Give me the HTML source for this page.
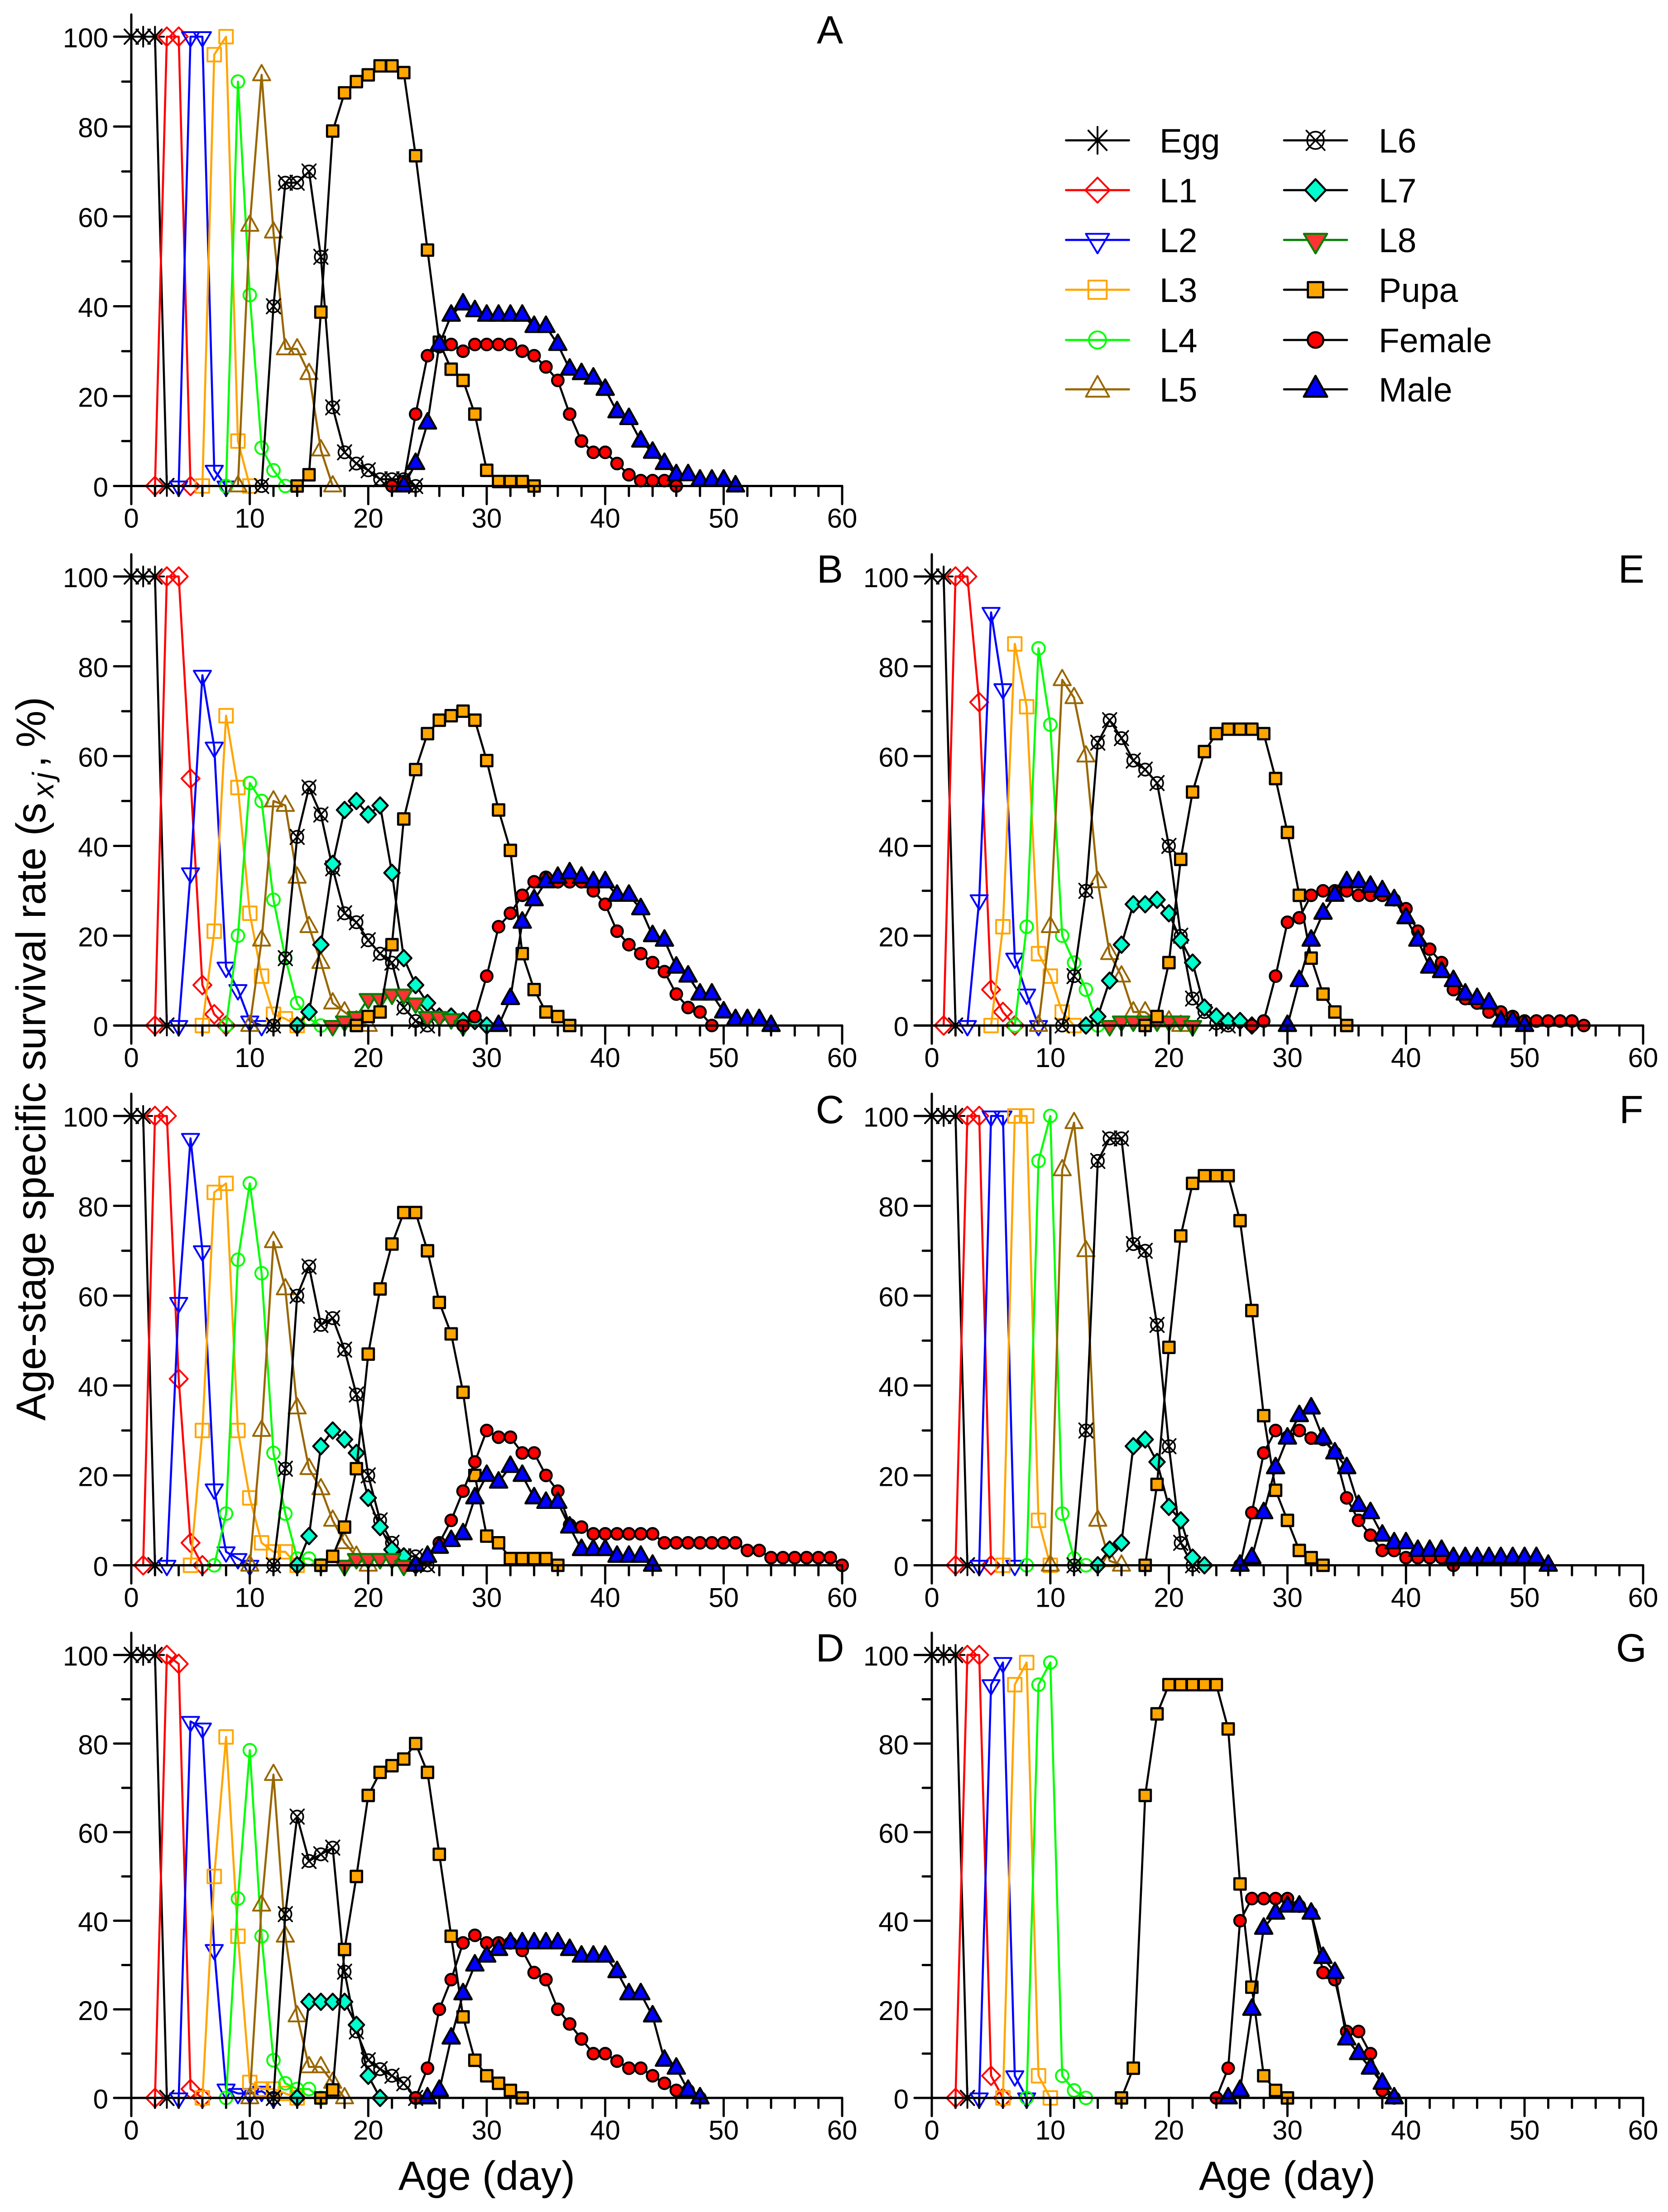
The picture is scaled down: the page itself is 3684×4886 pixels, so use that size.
<!DOCTYPE html>
<html lang="en">
<head>
<meta charset="utf-8">
<title>Age-stage specific survival rate</title>
<style>
html,body{margin:0;padding:0;background:#fff}
svg{display:block}
text{font-family:"Liberation Sans",Arial,sans-serif;fill:#000}
</style>
</head>
<body>
<svg id="chart" xmlns="http://www.w3.org/2000/svg" width="3684" height="4886" viewBox="0 0 3684 4886">
  <rect x="0" y="0" width="3684" height="4886" fill="#fff"/>
  <g id="panels"></g>
  <g id="legend-marks"></g>
  <g font-size="75">
    <text x="2561" y="337">Egg</text>
    <text x="2561" y="447">L1</text>
    <text x="2561" y="557">L2</text>
    <text x="2561" y="667">L3</text>
    <text x="2561" y="778">L4</text>
    <text x="2561" y="887">L5</text>
    <text x="3045" y="337">L6</text>
    <text x="3045" y="447">L7</text>
    <text x="3045" y="557">L8</text>
    <text x="3045" y="667">Pupa</text>
    <text x="3045" y="778">Female</text>
    <text x="3045" y="887">Male</text>
  </g>
  <g font-size="87" text-anchor="middle">
    <text x="1833" y="96">A</text>
    <text x="1833" y="1287">B</text>
    <text x="1833" y="2481">C</text>
    <text x="1833" y="3670">D</text>
    <text x="3603" y="1287">E</text>
    <text x="3603" y="2481">F</text>
    <text x="3603" y="3670">G</text>
  </g>
  <text x="1075" y="4837" font-size="90" text-anchor="middle">Age (day)</text>
  <text x="2843" y="4837" font-size="90" text-anchor="middle">Age (day)</text>
  <text transform="translate(100,3138) rotate(-90)" font-size="91.5">Age-stage specific survival rate (<tspan x="1319">s</tspan><tspan x="1376" dy="18" font-size="66" font-style="italic" letter-spacing="8">xj</tspan><tspan x="1443" dy="-18">,</tspan><tspan x="1487">%)</tspan></text>
</svg>
<script>
// Tick values and labels
const xMajorTicks = [0, 10, 20, 30, 40, 50, 60];
const xMinorTicks = [2, 4, 6, 8, 12, 14, 16, 18, 22, 24, 26, 28, 32, 34, 36, 38, 42, 44, 46, 48, 52, 54, 56, 58];
const yMajorTicks = [0, 20, 40, 60, 80, 100];
const yMinorTicks = [10, 30, 50, 70, 90];
const stages = ['Egg', 'L1', 'L2', 'L3', 'L4', 'L5', 'L6', 'L7', 'L8', 'Pupa', 'Female', 'Male'];

// Panel A: first age (day) of each stage, then survival rate (%) per day
const A_firstDay = [0, 2, 4, 6, 8, 9, 11, null, null, 14, 22, 23];
const A_Egg = [100, 100, 100, 0];
const A_L1 = [0, 100, 100, 0];
const A_L2 = [0, 100, 100, 3.5, 0];
const A_L3 = [0, 96, 100, 10, 0];
const A_L4 = [0, 90, 42.5, 8.5, 3.5, 0];
const A_L5 = [0, 58, 91.5, 56.5, 30.5, 30.5, 25, 8, 0];
const A_L6 = [0, 40, 67.5, 67.5, 70, 51, 17.5, 7.5, 5, 3.5, 1.5, 1.5, 1.5, 0];
const A_L7 = [];
const A_L8 = [];
const A_Pupa = [0, 2.5, 38.7, 79, 87.5, 90, 91.5, 93.5, 93.5, 92, 73.5, 52.5, 32, 26, 23.5, 16, 3.5, 1, 1, 1, 0];
const A_Female = [0, 1, 16, 29, 31, 31.5, 30, 31.5, 31.5, 31.5, 31.5, 30, 29, 26.5, 23.5, 16, 10, 7.5, 7.5, 5, 2.5, 1.2, 1.2, 1.2, 0];
const A_Male = [0, 5, 14, 31.5, 38, 40.5, 39, 38, 38, 38, 38, 35.5, 35.5, 31.5, 26, 25, 24, 21.5, 16.5, 15, 10, 7.5, 5, 2.5, 2.5, 1.3, 1.3, 1.3, 0];

// Panel B
const B_firstDay = [0, 2, 4, 6, 8, 10, 12, 14, 17, 19, 28, 31];
const B_Egg = [100, 100, 100, 0];
const B_L1 = [0, 100, 100, 55, 9, 2.5, 0];
const B_L2 = [0, 34, 78, 62, 13, 8, 1, 0];
const B_L3 = [0, 21, 69, 53, 25, 11, 2.5, 1.5, 0];
const B_L4 = [0, 20, 54, 50, 28, 15, 5, 1.5, 0];
const B_L5 = [0, 19, 50, 49, 33, 22, 14, 5, 3, 1, 0];
const B_L6 = [0, 15, 42, 53, 47, 35, 25, 23, 19, 16, 14, 4, 1, 0];
const B_L7 = [0, 3, 18, 36, 48, 50, 47, 49, 34, 15, 9, 5, 2, 2, 1, 1, 0];
const B_L8 = [0, 1, 2, 6, 6, 7, 7, 5, 2, 2, 1.5, 0];
const B_Pupa = [0, 2, 3, 18, 46, 57, 65, 68, 69, 70, 68, 59, 48, 39, 16, 8, 3, 2, 0];
const B_Female = [0, 2, 11, 22, 25, 29, 32, 33, 32, 32, 32, 30, 27, 21, 18, 16, 14, 12, 7, 4, 3, 0];
const B_Male = [0, 6, 23, 28, 32, 33, 34, 33, 32, 32, 29, 29, 26, 20, 19, 13, 11, 7, 7, 3, 1.3, 1.3, 1.3, 0];

// Panel C
const C_firstDay = [0, 1, 3, 5, 7, 10, 12, 14, 18, 16, 24, 24];
const C_Egg = [100, 100, 0];
const C_L1 = [0, 100, 100, 41.5, 5, 0];
const C_L2 = [0, 58.5, 95, 70, 17, 3, 1.5, 0];
const C_L3 = [0, 30, 83, 85, 30, 15, 5, 3, 3, 0];
const C_L4 = [0, 11.5, 68, 85, 65, 25, 11.5, 1.5, 1.5, 0];
const C_L5 = [0, 30, 72, 61.5, 35, 21.5, 17, 10, 5, 2, 0];
const C_L6 = [0, 21.5, 60, 66.5, 53.5, 55, 48, 38, 20, 10, 5, 2, 2, 0];
const C_L7 = [0, 6.5, 26.5, 30, 28, 25, 15, 8.5, 3.5, 2, 0];
const C_L8 = [0, 1.5, 1.5, 1.5, 1.5, 0];
const C_Pupa = [0, 2, 8.5, 21.5, 47, 61.5, 71.5, 78.5, 78.5, 70, 58.5, 51.5, 38.5, 20, 6.5, 5, 1.5, 1.5, 1.5, 1.5, 0];
const C_Female = [0, 1.5, 5, 10, 16.5, 23, 30, 28.5, 28.5, 25, 25, 20, 16.5, 9, 8.5, 7, 7, 7, 7, 7, 7, 5, 5, 5, 5, 5, 5, 5, 3.3, 3.3, 1.7, 1.7, 1.7, 1.7, 1.7, 1.7, 0];
const C_Male = [0, 2, 4, 5.5, 7, 15, 20, 18.5, 22, 20, 15, 14, 14, 8.5, 3.5, 3.5, 3.5, 2, 2, 2, 0];

// Panel D
const D_firstDay = [0, 2, 4, 6, 8, 10, 12, 14, null, 16, 24, 25];
const D_Egg = [100, 100, 100, 0];
const D_L1 = [0, 100, 98, 2, 0];
const D_L2 = [0, 85, 83.5, 33.5, 2, 1, 1, 1.5, 0];
const D_L3 = [0, 50, 81.5, 36.5, 3.5, 2, 2, 1, 0];
const D_L4 = [0, 45, 78.5, 36.5, 8.5, 3.3, 2, 2, 0];
const D_L5 = [0, 43.5, 73, 36.5, 18.5, 7, 7, 3.5, 0];
const D_L6 = [0, 41.5, 63.5, 53.5, 55, 56.5, 28.5, 15, 8.5, 6.5, 5, 3.3, 0];
const D_L7 = [0, 21.7, 21.7, 21.7, 21.7, 16.5, 5, 0];
const D_L8 = [];
const D_Pupa = [0, 1.8, 33.5, 50, 68.3, 73.5, 75, 76.5, 80, 73.5, 55, 36.5, 18.3, 8.5, 5, 3.3, 1.7, 0];
const D_Female = [0, 6.7, 20, 26.7, 35, 36.7, 35, 35, 35, 33.3, 28.3, 26.7, 20, 16.7, 13.3, 10, 10, 8.3, 6.7, 6.7, 5, 3.3, 1.7, 1.7, 0];
const D_Male = [0, 1.7, 13.5, 23.5, 30, 32, 33.5, 35, 35, 35, 35, 35, 33.5, 32, 32, 32, 28.5, 23.5, 23.5, 18.5, 8.5, 6.7, 1.7, 0];

// Panel E
const E_firstDay = [0, 1, 3, 5, 7, 9, 11, 13, 15, 18, 27, 30];
const E_Egg = [100, 100, 0];
const E_L1 = [0, 100, 100, 72, 8, 3, 0];
const E_L2 = [0, 28, 92, 75, 15, 7, 0];
const E_L3 = [0, 22, 85, 71, 16, 11, 3, 0];
const E_L4 = [0, 22, 84, 67, 20, 14, 8, 0];
const E_L5 = [0, 22, 77, 73, 60, 32, 16, 11, 3, 3, 1, 1, 0];
const E_L6 = [0, 11, 30, 63, 68, 64, 59, 57, 54, 40, 20, 6, 3, 0.5, 0];
const E_L7 = [0, 2, 10, 18, 27, 27, 28, 25, 19, 14, 4, 2, 1, 1, 0];
const E_L8 = [0, 1, 1, 1, 1, 1, 1, 0];
const E_Pupa = [0, 2, 14, 37, 52, 61, 65, 66, 66, 66, 65, 55, 43, 29, 15, 7, 3, 0];
const E_Female = [0, 1, 11, 23, 24, 29, 30, 30, 30, 29, 29, 29, 28, 26, 21, 17, 14, 8, 6, 5, 3, 3, 2, 1, 1, 1, 1, 1, 0];
const E_Male = [0, 10, 19, 25, 29, 32, 32, 31, 30, 28, 24, 19, 13, 12, 10, 7, 6, 5, 1, 1, 0];

// Panel F
const F_firstDay = [0, 2, 4, 6, 8, 10, 12, 14, null, 18, 26, 26];
const F_Egg = [100, 100, 100, 0];
const F_L1 = [0, 100, 100, 0];
const F_L2 = [0, 100, 100, 0];
const F_L3 = [0, 100, 100, 10, 0];
const F_L4 = [0, 90, 100, 11.5, 1.5, 0];
const F_L5 = [0, 88, 98.5, 70, 10, 1, 0];
const F_L6 = [0, 30, 90, 95, 95, 71.5, 70, 53.5, 26.5, 5, 0];
const F_L7 = [0, 3.5, 5, 26.5, 28, 23, 13, 10, 1.7, 0];
const F_L8 = [];
const F_Pupa = [0, 18, 48.5, 73.3, 85, 86.7, 86.7, 86.7, 76.7, 56.7, 33.3, 16.7, 10, 3.3, 1.7, 0];
const F_Female = [0, 11.7, 25, 30, 28.5, 30, 28.3, 28, 25, 15, 10, 6.7, 3.3, 3.3, 1.7, 1.7, 1.7, 1.7, 0];
const F_Male = [0, 1.7, 11.7, 21.7, 28.3, 33.3, 35, 28.3, 25, 21.7, 13.3, 11.7, 6.7, 5, 5, 3.3, 3.3, 3.3, 1.7, 1.7, 1.7, 1.7, 1.7, 1.7, 1.7, 1.7, 0];

// Panel G
const G_firstDay = [0, 2, 4, 6, 8, null, null, null, null, 16, 24, 25];
const G_Egg = [100, 100, 100, 0];
const G_L1 = [0, 100, 100, 5, 0];
const G_L2 = [0, 93.3, 98.3, 5, 0];
const G_L3 = [0, 93.3, 98.3, 5, 0];
const G_L4 = [0, 93.3, 98.3, 5, 1.7, 0];
const G_L5 = [];
const G_L6 = [];
const G_L7 = [];
const G_L8 = [];
const G_Pupa = [0, 6.7, 68.3, 86.7, 93.3, 93.3, 93.3, 93.3, 93.3, 83.3, 48.3, 25, 5, 1.7, 0];
const G_Female = [0, 6.7, 40, 45, 45, 45, 45, 43.3, 41.7, 28.3, 26.7, 15, 15, 10, 1.7, 0];
const G_Male = [0, 1.7, 20, 38.3, 41.7, 43.3, 43.3, 41.7, 31.7, 28.3, 13.3, 10, 6.7, 3.3, 0];

const panelData = {
  A: {firstDay: A_firstDay, series: [A_Egg, A_L1, A_L2, A_L3, A_L4, A_L5, A_L6, A_L7, A_L8, A_Pupa, A_Female, A_Male]},
  B: {firstDay: B_firstDay, series: [B_Egg, B_L1, B_L2, B_L3, B_L4, B_L5, B_L6, B_L7, B_L8, B_Pupa, B_Female, B_Male]},
  C: {firstDay: C_firstDay, series: [C_Egg, C_L1, C_L2, C_L3, C_L4, C_L5, C_L6, C_L7, C_L8, C_Pupa, C_Female, C_Male]},
  D: {firstDay: D_firstDay, series: [D_Egg, D_L1, D_L2, D_L3, D_L4, D_L5, D_L6, D_L7, D_L8, D_Pupa, D_Female, D_Male]},
  E: {firstDay: E_firstDay, series: [E_Egg, E_L1, E_L2, E_L3, E_L4, E_L5, E_L6, E_L7, E_L8, E_Pupa, E_Female, E_Male]},
  F: {firstDay: F_firstDay, series: [F_Egg, F_L1, F_L2, F_L3, F_L4, F_L5, F_L6, F_L7, F_L8, F_Pupa, F_Female, F_Male]},
  G: {firstDay: G_firstDay, series: [G_Egg, G_L1, G_L2, G_L3, G_L4, G_L5, G_L6, G_L7, G_L8, G_Pupa, G_Female, G_Male]}
};

// Layout (pixels)
const panelFrames = {
  A: {l: 290, r: 1860, t: 81, b: 1073.5},
  B: {l: 290, r: 1860, t: 1273.4, b: 2265.2},
  C: {l: 290, r: 1860, t: 2465, b: 3457.5},
  D: {l: 290, r: 1860, t: 3655.6, b: 4634},
  E: {l: 2058, r: 3629, t: 1273.4, b: 2265.2},
  F: {l: 2058, r: 3629, t: 2465, b: 3457.5},
  G: {l: 2058, r: 3629, t: 3655.6, b: 4634}
};
const stageStyles = {
  Egg: {line: '#000', shape: 'star', stroke: '#000', fill: 'none', sw: 4},
  L1: {line: '#f00', shape: 'diamond', stroke: '#f00', fill: 'none', sw: 4},
  L2: {line: '#00f', shape: 'down', stroke: '#00f', fill: 'none', sw: 4},
  L3: {line: '#ffa500', shape: 'square', stroke: '#ffa500', fill: 'none', sw: 4},
  L4: {line: '#0f0', shape: 'circle', stroke: '#0f0', fill: 'none', sw: 4},
  L5: {line: '#996600', shape: 'up', stroke: '#996600', fill: 'none', sw: 4},
  L6: {line: '#000', shape: 'xcircle', stroke: '#000', fill: 'none', sw: 3.6},
  L7: {line: '#000', shape: 'diamond7', stroke: '#000', fill: '#00ffcc', sw: 4.4},
  L8: {line: '#008000', shape: 'down', stroke: '#008000', fill: '#ff3333', sw: 4.4},
  Pupa: {line: '#000', shape: 'pupa', stroke: '#000', fill: '#ffa500', sw: 4.8},
  Female: {line: '#000', shape: 'dot', stroke: '#000', fill: '#f00', sw: 4.4},
  Male: {line: '#000', shape: 'up', stroke: '#000', fill: '#00f', sw: 4.8}
};

const NS = 'http://www.w3.org/2000/svg';
function make(tag, parent, attrs) {
  const el = document.createElementNS(NS, tag);
  for (const k in attrs) el.setAttribute(k, attrs[k]);
  parent.appendChild(el);
  return el;
}
function markerPath(shape, x, y, s) {
  const p = (dx, dy) => (x + dx * s).toFixed(1) + ' ' + (y + dy * s).toFixed(1);
  const circle = r => 'M' + p(-r, 0) + 'A' + (r * s) + ' ' + (r * s) + ' 0 1 1 ' + p(r, 0) + 'A' + (r * s) + ' ' + (r * s) + ' 0 1 1 ' + p(-r, 0) + 'Z';
  switch (shape) {
    case 'star': return 'M' + p(-20, 0) + 'L' + p(20, 0) + 'M' + p(0, -22) + 'L' + p(0, 22) + 'M' + p(-15, -16) + 'L' + p(15, 16) + 'M' + p(-15, 16) + 'L' + p(15, -16);
    case 'diamond': return 'M' + p(0, -20.5) + 'L' + p(20, 0) + 'L' + p(0, 20.5) + 'L' + p(-20, 0) + 'Z';
    case 'diamond7': return 'M' + p(0, -18) + 'L' + p(17, 0) + 'L' + p(0, 18) + 'L' + p(-17, 0) + 'Z';
    case 'down': return 'M' + p(-19, -10) + 'L' + p(19, -10) + 'L' + p(0, 22) + 'Z';
    case 'up': return 'M' + p(-19, 12) + 'L' + p(19, 12) + 'L' + p(0, -22) + 'Z';
    case 'square': return 'M' + p(-15, -15) + 'L' + p(15, -15) + 'L' + p(15, 15) + 'L' + p(-15, 15) + 'Z';
    case 'pupa': return 'M' + p(-12.5, -12.5) + 'L' + p(12.5, -12.5) + 'L' + p(12.5, 12.5) + 'L' + p(-12.5, 12.5) + 'Z';
    case 'circle': return circle(14);
    case 'dot': return circle(12.8);
    case 'xcircle': return circle(13.5) + 'M' + p(-15, -16) + 'L' + p(15, 16) + 'M' + p(-15, 16) + 'L' + p(15, -16);
  }
  return '';
}
function xAxisScale(frame) {
  return day => frame.l + (frame.r - frame.l) * day / 60;
}
function yAxisScale(frame) {
  return rate => frame.b - (frame.b - frame.t) * rate / 100;
}
function drawSeries(parent, id, stage, first, values, x, y) {
  if (!values.length) return;
  const st = stageStyles[stage];
  const g = make('g', parent, {});
  
  
  const line = make('polyline', g, {
    points: values.map((v, i) => x(first + i).toFixed(1) + ',' + y(v).toFixed(1)).join(' '),
    fill: 'none', stroke: st.line, 'stroke-width': 4.6, 'stroke-linejoin': 'round'
  });
  
  
  values.forEach((v, i) => {
    const m = make('path', g, {
      d: markerPath(st.shape, x(first + i), y(v), 1),
      fill: st.fill, stroke: st.stroke, 'stroke-width': st.sw, 'stroke-linejoin': 'round', 'stroke-linecap': 'round'
    });
    
    
  });
}
function drawAxes(parent, id, frame, x, y) {
  const g = make('g', parent, {stroke: '#000', 'stroke-width': 5, 'stroke-linecap': 'round'});
  
  
  const yLine = make('line', g, {x1: frame.l, x2: frame.l, y1: frame.t - 49, y2: frame.b + 40});
  
  
  const xLine = make('line', g, {x1: frame.l - 38, x2: frame.r, y1: frame.b, y2: frame.b});
  
  
  xMinorTicks.forEach(d => {
    const t = make('line', g, {x1: x(d), x2: x(d), y1: frame.b, y2: frame.b + 22});
    
    
  });
  yMinorTicks.forEach(v => {
    const t = make('line', g, {x1: frame.l - 20, x2: frame.l, y1: y(v), y2: y(v)});
    
    
  });
  xMajorTicks.forEach(d => {
    const t = make('line', g, {x1: x(d), x2: x(d), y1: frame.b, y2: frame.b + 40});
    
    
    const label = make('text', parent, {x: x(d), y: frame.b + 92, 'font-size': 60, 'text-anchor': 'middle'});
    label.textContent = String(d);
    
    
  });
  yMajorTicks.forEach(v => {
    const t = make('line', g, {x1: frame.l - 38, x2: frame.l, y1: y(v), y2: y(v)});
    
    
    const label = make('text', parent, {x: frame.l - 51, y: y(v) + 23.5, 'font-size': 60, 'text-anchor': 'end'});
    label.textContent = String(v);
    
    
  });
}
const panelsRoot = document.getElementById('panels');
Object.keys(panelData).forEach(id => {
  const frame = panelFrames[id];
  const data = panelData[id];
  const x = xAxisScale(frame);
  const y = yAxisScale(frame);
  const g = make('g', panelsRoot, {});
  
  
  stages.forEach((stage, i) => drawSeries(g, id, stage, data.firstDay[i], data.series[i], x, y));
  drawAxes(g, id, frame, x, y);
});

// Legend swatches
const legendSlots = {
  Egg: [2424, 310], L1: [2424, 420], L2: [2424, 530], L3: [2424, 640], L4: [2424, 751], L5: [2424, 860],
  L6: [2905.5, 310], L7: [2905.5, 420], L8: [2905.5, 530], Pupa: [2905.5, 640], Female: [2905.5, 751], Male: [2905.5, 860]
};
const legendRoot = document.getElementById('legend-marks');
stages.forEach(stage => {
  const st = stageStyles[stage];
  const cx = legendSlots[stage][0];
  const cy = legendSlots[stage][1];
  const g = make('g', legendRoot, {});
  
  
  const line = make('line', g, {x1: cx - 69.5, x2: cx + 69.5, y1: cy, y2: cy, stroke: st.line, 'stroke-width': 4.8, 'stroke-linecap': 'round'});
  
  
  const m = make('path', g, {
    d: markerPath(st.shape, cx, cy, 1.35),
    fill: st.fill, stroke: st.stroke, 'stroke-width': st.sw, 'stroke-linejoin': 'round', 'stroke-linecap': 'round'
  });
  
  
});
</script>
</body>
</html>
